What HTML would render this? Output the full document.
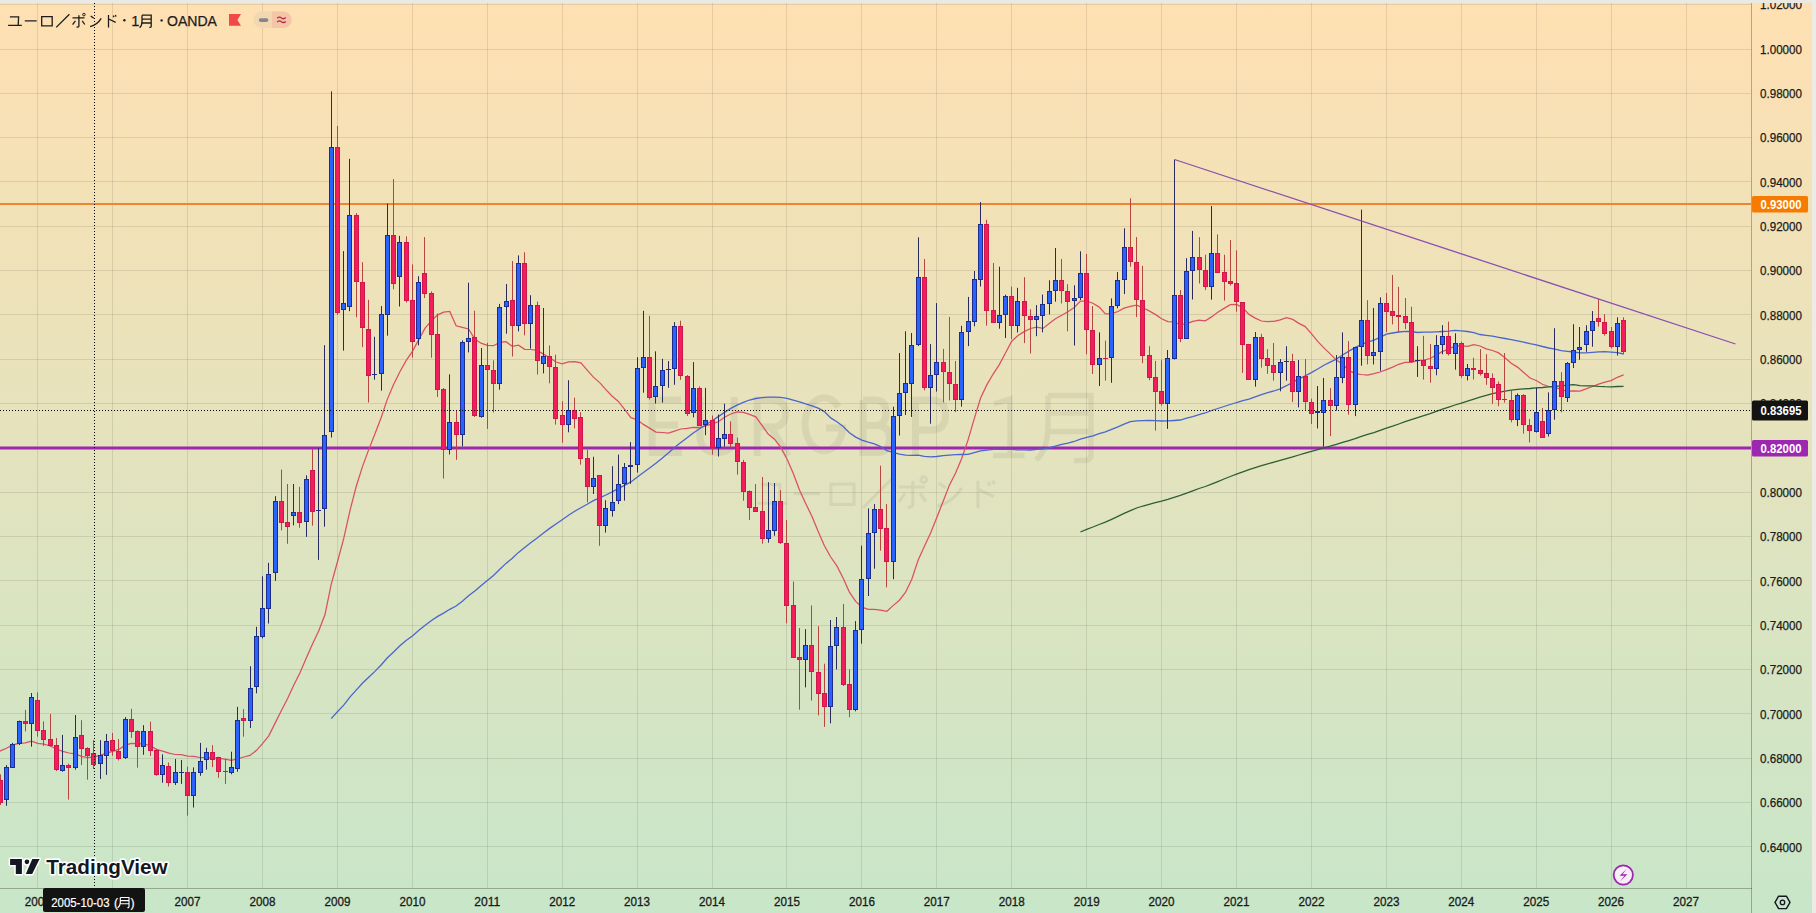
<!DOCTYPE html>
<html><head><meta charset="utf-8"><style>
html,body{margin:0;padding:0;width:1816px;height:913px;overflow:hidden;background:#fff}
svg{display:block}
text{font-family:"Liberation Sans",sans-serif}
</style></head><body>
<svg width="1816" height="913" viewBox="0 0 1816 913">
<defs>
<linearGradient id="bg" x1="0" y1="0" x2="0" y2="1">
<stop offset="0" stop-color="#FFE0B2"/><stop offset="1" stop-color="#C8E6C9"/>
</linearGradient>
<clipPath id="chart"><rect x="0" y="0" width="1751" height="888"/></clipPath>
</defs>
<rect x="0" y="0" width="1816" height="913" fill="url(#bg)"/>

<path d="M37.5,0V888M112.5,0V888M187.5,0V888M262.5,0V888M337.5,0V888M412.5,0V888M487.5,0V888M562.5,0V888M637.5,0V888M712.5,0V888M786.5,0V888M861.5,0V888M936.5,0V888M1011.5,0V888M1086.5,0V888M1161.5,0V888M1236.5,0V888M1311.5,0V888M1386.5,0V888M1461.5,0V888M1536.5,0V888M1611.5,0V888M1686.5,0V888M0,4.5H1751M0,49.5H1751M0,93.5H1751M0,137.5H1751M0,181.5H1751M0,226.5H1751M0,270.5H1751M0,314.5H1751M0,359.5H1751M0,403.5H1751M0,447.5H1751M0,492.5H1751M0,536.5H1751M0,580.5H1751M0,625.5H1751M0,669.5H1751M0,713.5H1751M0,758.5H1751M0,802.5H1751M0,846.5H1751" stroke="#000" stroke-opacity="0.095" stroke-width="1" fill="none"/>
<path d="M681,400H652.2V452.5H682M652.2,425H678M699.9,397V435Q699.9,452.5 717,452.5Q734.2,452.5 734.2,435V397M757.2,456V400H772Q785.5,400 785.5,413.5Q785.5,427 772,427H757.2M771,427L788,456M838.5,407A19,26.5 0 1 0 842.5,431V428H826M863,400V452.5H877Q889.5,452.5 889.5,439Q889.5,425.5 877,425.5H863M863,400H875Q886,400 886,412.7Q886,425.5 875,425.5M915.5,456V400H931Q945.5,400 945.5,415Q945.5,430 931,430H915.5" fill="none" stroke="#000" stroke-opacity="0.06" stroke-width="7"/>
<path d="M994,404L1010,399V455.5M993,455.5H1024.5M1048,395.5H1091V455Q1091,460.5 1084,460.5H1074M1048,395.5V425Q1048,450 1036,460M1048,413H1091M1048,431.5H1091" fill="none" stroke="#000" stroke-opacity="0.06" stroke-width="5.5"/>
<g transform="translate(757,478) scale(2.2) translate(-8.1,-13.8)" fill="none" stroke="#000" stroke-opacity="0.06" stroke-width="1.4"><path d="M9.9,16.8H18.6L18.2,25.3M8.1,25.3H21.8M24.8,20.9H36.7M41.7,16.6H52.2V25.8H41.7ZM56.2,27.4L69.4,14.2M72.5,17.9H84.5M78.9,15.2V26.2Q78.9,27.2 76.6,27M75.4,20.8L72.6,24.6M82.2,20.8L84.8,24.5M90.7,16L93.8,18.3M90.1,26.6Q97.5,24.5 101.2,18.3M108.5,15V27.4M108.7,19L115.7,22.3M113.2,15.6L114,17.2M115.3,15L116.1,16.6"/><circle cx="83.9" cy="14.6" r="1.3"/></g>
<g clip-path="url(#chart)">
<rect x="0" y="203" width="1751" height="2" fill="#EE8530"/>
<rect x="0" y="446.5" width="1751" height="3" fill="#9C27B0"/>
<path d="M-43.4,775.9 L-37.2,769.2 L-30.9,766.5 L-24.7,763.1 L-18.4,760.2 L-12.2,756.3 L-5.9,753.0 L0.3,750.9 L6.5,748.3 L12.8,744.9 L19.0,743.3 L25.3,742.9 L31.5,741.1 L37.8,743.3 L44.0,744.2 L50.2,746.0 L56.5,749.0 L62.7,751.3 L69.0,753.0 L75.2,753.8 L81.5,756.3 L87.7,757.5 L93.9,756.9 L100.2,755.3 L106.4,753.2 L112.7,751.4 L118.9,749.4 L125.2,745.2 L131.4,743.5 L137.7,743.6 L143.9,744.1 L150.1,745.5 L156.4,749.4 L162.6,751.1 L168.9,753.2 L175.1,754.5 L181.4,754.6 L187.6,756.1 L193.8,756.3 L200.1,757.5 L206.3,757.7 L212.6,757.9 L218.8,758.3 L225.1,759.1 L231.3,760.4 L237.5,758.9 L243.8,757.0 L250.0,755.4 L256.3,750.6 L262.5,743.7 L268.8,735.8 L275.0,723.4 L281.3,710.8 L287.5,698.8 L293.7,685.3 L300.0,672.8 L306.2,658.2 L312.5,644.0 L318.7,630.9 L325.0,614.6 L331.2,584.4 L337.4,562.0 L343.7,538.6 L349.9,510.8 L356.2,486.5 L362.4,466.9 L368.7,449.6 L374.9,433.9 L381.1,417.8 L387.4,399.1 L393.6,384.6 L399.9,371.7 L406.1,360.6 L412.4,351.4 L418.6,339.9 L424.9,328.4 L431.1,321.2 L437.3,315.1 L443.6,312.1 L449.8,311.4 L456.1,325.8 L462.3,327.3 L468.6,329.0 L474.8,339.1 L481.0,343.2 L487.3,345.3 L493.5,345.7 L499.8,342.4 L506.0,341.7 L512.3,346.3 L518.5,345.2 L524.7,349.3 L531.0,349.5 L537.2,350.4 L543.5,354.1 L549.7,357.8 L556.0,362.0 L562.2,363.8 L568.5,361.8 L574.7,361.6 L580.9,362.8 L587.2,370.1 L593.4,377.1 L599.7,382.6 L605.9,389.7 L612.2,396.3 L618.4,401.4 L624.6,409.4 L630.9,417.6 L637.1,419.7 L643.4,424.4 L649.6,428.1 L655.9,432.1 L662.1,432.5 L668.3,433.2 L674.6,431.1 L680.8,429.0 L687.1,428.4 L693.3,427.4 L699.6,427.7 L705.8,425.8 L712.1,423.8 L718.3,421.8 L724.5,417.2 L730.8,414.0 L737.0,412.0 L743.3,412.4 L749.5,414.4 L755.8,416.8 L762.0,425.4 L768.2,434.0 L774.5,439.2 L780.7,447.1 L787.0,458.9 L793.2,473.3 L799.5,490.0 L805.7,503.5 L812.0,516.4 L818.2,531.6 L824.4,545.7 L830.7,557.0 L836.9,565.9 L843.2,578.3 L849.4,592.1 L855.7,601.4 L861.9,607.2 L868.1,609.3 L874.4,609.3 L880.6,610.2 L886.9,611.3 L893.1,605.6 L899.4,600.2 L905.6,592.2 L911.8,579.2 L918.1,560.2 L924.3,546.6 L930.6,533.1 L936.8,517.6 L943.1,501.5 L949.3,485.4 L955.6,473.1 L961.8,458.3 L968.0,440.1 L974.3,418.6 L980.5,398.3 L986.8,384.9 L993.0,374.3 L999.3,364.6 L1005.5,353.0 L1011.7,341.2 L1018.0,335.5 L1024.2,331.6 L1030.5,328.5 L1036.7,327.1 L1043.0,328.4 L1049.2,323.6 L1055.4,318.8 L1061.7,315.2 L1067.9,311.7 L1074.2,307.4 L1080.4,301.0 L1086.7,301.0 L1092.9,303.2 L1099.2,307.1 L1105.4,313.8 L1111.6,313.6 L1117.9,311.5 L1124.1,308.1 L1130.4,306.4 L1136.6,305.1 L1142.9,307.8 L1149.1,310.9 L1155.3,314.4 L1161.6,318.8 L1167.8,321.6 L1174.1,321.8 L1180.3,324.7 L1186.6,323.7 L1192.8,321.4 L1199.0,320.1 L1205.3,320.8 L1211.5,316.9 L1217.8,312.3 L1224.0,308.4 L1230.3,304.7 L1236.5,304.5 L1242.8,307.7 L1249.0,314.4 L1255.2,318.1 L1261.5,321.0 L1267.7,321.6 L1274.0,321.3 L1280.2,319.9 L1286.5,317.7 L1292.7,319.4 L1298.9,323.4 L1305.2,326.6 L1311.4,333.7 L1317.7,341.4 L1323.9,347.9 L1330.2,353.9 L1336.4,360.1 L1342.6,364.3 L1348.9,370.4 L1355.1,373.6 L1361.4,374.5 L1367.6,375.1 L1373.9,373.7 L1380.1,372.0 L1386.4,369.6 L1392.6,367.1 L1398.8,364.3 L1405.1,362.3 L1411.3,362.3 L1417.6,360.7 L1423.8,360.2 L1430.1,358.5 L1436.3,355.1 L1442.5,351.4 L1448.8,349.1 L1455.0,345.9 L1461.3,345.8 L1467.5,346.4 L1473.8,344.7 L1480.0,346.0 L1486.2,348.9 L1492.5,350.5 L1498.7,352.9 L1505.0,357.7 L1511.2,363.2 L1517.5,367.1 L1523.7,372.5 L1530.0,378.0 L1536.2,380.5 L1542.4,384.3 L1548.7,386.5 L1554.9,387.1 L1561.2,389.7 L1567.4,391.1 L1573.7,390.9 L1579.9,391.1 L1586.1,388.9 L1592.4,386.5 L1598.6,384.1 L1604.9,382.1 L1611.1,380.6 L1617.4,377.3 L1623.6,374.9" stroke="#DA5062" stroke-width="1.25" fill="none"/>
<path d="M331.2,718.6 L337.4,711.7 L343.7,705.1 L349.9,697.1 L356.2,690.1 L362.4,683.3 L368.7,677.2 L374.9,671.4 L381.1,665.0 L387.4,657.8 L393.6,652.0 L399.9,645.8 L406.1,640.5 L412.4,636.1 L418.6,630.6 L424.9,625.4 L431.1,620.8 L437.3,616.6 L443.6,613.1 L449.8,609.3 L456.1,606.0 L462.3,601.2 L468.6,595.7 L474.8,591.1 L481.0,585.8 L487.3,580.6 L493.5,575.4 L499.8,569.2 L506.0,563.4 L512.3,558.2 L518.5,552.4 L524.7,547.4 L531.0,542.5 L537.2,537.9 L543.5,533.1 L549.7,528.4 L556.0,524.0 L562.2,519.7 L568.5,515.3 L574.7,511.3 L580.9,507.7 L587.2,504.3 L593.4,500.7 L599.7,497.9 L605.9,495.0 L612.2,491.9 L618.4,488.4 L624.6,485.3 L630.9,481.9 L637.1,477.2 L643.4,472.5 L649.6,468.1 L655.9,463.2 L662.1,458.3 L668.3,453.1 L674.6,447.5 L680.8,442.6 L687.1,437.8 L693.3,433.0 L699.6,428.8 L705.8,424.7 L712.1,420.8 L718.3,416.6 L724.5,412.4 L730.8,408.4 L737.0,405.1 L743.3,402.3 L749.5,400.0 L755.8,398.5 L762.0,397.6 L768.2,397.1 L774.5,397.1 L780.7,397.3 L787.0,398.3 L793.2,400.1 L799.5,401.8 L805.7,403.9 L812.0,405.9 L818.2,408.2 L824.4,411.6 L830.7,417.9 L836.9,421.8 L843.2,426.5 L849.4,432.7 L855.7,437.1 L861.9,440.2 L868.1,442.2 L874.4,443.9 L880.6,446.6 L886.9,450.7 L893.1,452.3 L899.4,454.2 L905.6,455.2 L911.8,455.3 L918.1,455.2 L924.3,456.4 L930.6,456.9 L936.8,456.5 L943.1,455.6 L949.3,455.1 L955.6,454.7 L961.8,454.5 L968.0,454.3 L974.3,452.6 L980.5,450.9 L986.8,450.1 L993.0,449.3 L999.3,449.4 L1005.5,449.4 L1011.7,449.4 L1018.0,449.9 L1024.2,449.8 L1030.5,450.0 L1036.7,449.4 L1043.0,448.8 L1049.2,447.8 L1055.4,446.1 L1061.7,444.4 L1067.9,443.1 L1074.2,441.5 L1080.4,439.2 L1086.7,437.3 L1092.9,435.9 L1099.2,433.7 L1105.4,431.9 L1111.6,429.4 L1117.9,426.9 L1124.1,424.1 L1130.4,421.6 L1136.6,420.8 L1142.9,420.7 L1149.1,420.5 L1155.3,420.6 L1161.6,421.0 L1167.8,420.9 L1174.1,420.5 L1180.3,420.0 L1186.6,418.2 L1192.8,416.6 L1199.0,414.6 L1205.3,413.0 L1211.5,410.5 L1217.8,408.5 L1224.0,406.5 L1230.3,404.5 L1236.5,402.5 L1242.8,400.7 L1249.0,399.1 L1255.2,396.9 L1261.5,394.7 L1267.7,392.6 L1274.0,391.0 L1280.2,388.8 L1286.5,385.7 L1292.7,382.4 L1298.9,378.8 L1305.2,375.8 L1311.4,372.6 L1317.7,369.0 L1323.9,365.2 L1330.2,362.2 L1336.4,359.1 L1342.6,355.0 L1348.9,351.1 L1355.1,347.6 L1361.4,344.4 L1367.6,342.1 L1373.9,340.2 L1380.1,337.4 L1386.4,334.2 L1392.6,333.0 L1398.8,332.0 L1405.1,331.3 L1411.3,331.5 L1417.6,332.5 L1423.8,332.2 L1430.1,332.2 L1436.3,331.9 L1442.5,331.5 L1448.8,331.1 L1455.0,330.4 L1461.3,330.9 L1467.5,331.5 L1473.8,332.7 L1480.0,334.5 L1486.2,335.4 L1492.5,336.2 L1498.7,337.3 L1505.0,338.5 L1511.2,339.7 L1517.5,340.9 L1523.7,342.2 L1530.0,343.6 L1536.2,344.8 L1542.4,346.5 L1548.7,348.0 L1554.9,349.2 L1561.2,350.6 L1567.4,351.3 L1573.7,352.0 L1579.9,352.9 L1586.1,352.9 L1592.4,352.4 L1598.6,351.9 L1604.9,351.6 L1611.1,352.1 L1617.4,352.7 L1623.6,354.0" stroke="#4A66CC" stroke-width="1.3" fill="none"/>
<path d="M1080.4,532.0 L1086.7,529.3 L1092.9,527.0 L1099.2,524.5 L1105.4,522.1 L1111.6,519.3 L1117.9,516.4 L1124.1,513.4 L1130.4,510.6 L1136.6,508.0 L1142.9,506.0 L1149.1,504.3 L1155.3,502.6 L1161.6,501.1 L1167.8,499.3 L1174.1,497.3 L1180.3,495.4 L1186.6,493.2 L1192.8,490.8 L1199.0,488.5 L1205.3,486.5 L1211.5,484.1 L1217.8,481.6 L1224.0,479.0 L1230.3,476.5 L1236.5,474.1 L1242.8,471.8 L1249.0,469.7 L1255.2,467.6 L1261.5,465.6 L1267.7,463.9 L1274.0,462.1 L1280.2,460.4 L1286.5,458.6 L1292.7,456.9 L1298.9,455.0 L1305.2,453.2 L1311.4,451.4 L1317.7,449.6 L1323.9,447.9 L1330.2,446.2 L1336.4,444.3 L1342.6,442.3 L1348.9,440.5 L1355.1,438.6 L1361.4,436.4 L1367.6,434.4 L1373.9,432.6 L1380.1,430.4 L1386.4,428.2 L1392.6,426.2 L1398.8,424.0 L1405.1,421.7 L1411.3,419.7 L1417.6,417.6 L1423.8,415.6 L1430.1,413.6 L1436.3,411.3 L1442.5,409.1 L1448.8,407.1 L1455.0,405.0 L1461.3,403.1 L1467.5,401.1 L1473.8,399.1 L1480.0,397.1 L1486.2,395.4 L1492.5,393.7 L1498.7,392.3 L1505.0,391.1 L1511.2,390.2 L1517.5,389.3 L1523.7,388.9 L1530.0,388.5 L1536.2,387.9 L1542.4,387.5 L1548.7,386.9 L1554.9,386.4 L1561.2,385.9 L1567.4,385.1 L1573.7,384.7 L1579.9,385.7 L1586.1,385.8 L1592.4,385.9 L1598.6,386.4 L1604.9,386.7 L1611.1,386.8 L1617.4,386.5 L1623.6,386.4" stroke="#2C5E36" stroke-width="1.3" fill="none"/>
<path d="M6.5,765.1V805.8M12.5,742.9V768.0M19.5,720.6V745.0M31.5,693.0V746.7M62.5,734.9V771.7M75.5,715.0V769.7M100.5,740.1V778.9M106.5,734.0V774.8M125.5,717.1V759.0M143.5,725.2V754.8M162.5,754.4V782.7M175.5,759.0V785.0M181.5,760.0V783.9M193.5,767.4V807.5M200.5,742.9V775.8M206.5,747.8V769.7M231.5,751.7V774.3M237.5,706.8V771.7M250.5,666.2V728.0M256.5,626.8V693.3M262.5,576.3V638.3M268.5,562.8V623.5M275.5,496.2V580.9M293.5,484.0V525.4M306.5,475.3V536.9M318.5,448.2V559.9M324.5,345.2V526.7M331.5,91.4V437.5M343.5,251.1V350.6M349.5,158.8V311.2M374.5,336.8V379.7M381.5,306.1V390.7M387.5,203.5V335.7M399.5,235.9V306.5M418.5,276.2V345.4M449.5,374.3V454.5M462.5,340.4V446.4M468.5,282.7V352.4M481.5,348.0V417.7M499.5,303.9V389.7M506.5,284.1V333.7M518.5,255.4V331.4M530.5,295.2V348.6M543.5,308.0V373.4M568.5,380.2V432.3M593.5,456.8V494.0M605.5,500.2V532.6M612.5,466.2V516.6M618.5,454.6V504.1M624.5,463.0V500.6M630.5,442.1V483.8M637.5,357.2V472.6M643.5,310.8V392.7M655.5,351.3V403.6M662.5,358.8V402.6M668.5,361.1V387.8M674.5,322.1V384.8M693.5,362.1V417.4M705.5,387.9V435.2M718.5,414.5V456.5M724.5,403.7V446.7M768.5,482.2V542.7M774.5,483.0V535.8M805.5,629.2V687.4M830.5,620.0V723.4M836.5,617.0V669.4M855.5,621.1V711.3M861.5,545.7V643.7M868.5,508.4V596.0M874.5,504.1V568.7M893.5,406.7V579.2M899.5,353.0V435.5M905.5,331.3V415.0M911.5,333.0V416.9M918.5,237.3V346.0M930.5,344.1V423.7M936.5,303.1V391.6M961.5,325.8V406.7M968.5,296.9V346.1M974.5,271.0V326.3M980.5,202.1V286.5M999.5,266.7V328.7M1005.5,294.7V338.0M1017.5,287.8V332.5M1036.5,305.1V336.2M1042.5,294.5V332.4M1049.5,280.3V314.4M1055.5,248.0V301.7M1074.5,285.3V345.5M1080.5,251.3V300.0M1099.5,332.4V386.0M1111.5,298.4V382.8M1117.5,272.1V308.3M1124.5,228.3V294.1M1167.5,350.0V428.9M1174.5,159.6V359.5M1186.5,258.2V339.0M1192.5,230.9V299.5M1211.5,206.0V299.7M1255.5,332.0V386.7M1280.5,359.1V391.3M1286.5,346.2V380.7M1298.5,360.0V407.4M1317.5,386.0V428.4M1323.5,377.9V446.7M1336.5,355.1V410.5M1342.5,332.4V383.2M1355.5,346.9V416.1M1361.5,209.6V365.7M1373.5,307.9V364.4M1380.5,297.4V370.9M1417.5,346.2V376.9M1436.5,335.2V375.3M1442.5,325.2V354.3M1455.5,333.3V369.7M1467.5,364.0V380.4M1517.5,393.4V426.1M1536.5,387.7V432.5M1548.5,392.4V436.5M1554.5,328.2V419.7M1567.5,362.1V402.0M1573.5,324.2V368.0M1579.5,327.0V359.8M1586.5,325.3V351.9M1592.5,311.1V346.7M1617.5,317.3V355.5" stroke="#2B2A5E" stroke-width="1" fill="none"/>
<path d="M0.5,774.3V805.0M25.5,709.9V731.4M37.5,692.3V736.7M43.5,721.4V745.9M50.5,714.0V746.5M56.5,738.0V771.0M68.5,763.6V799.6M81.5,720.2V765.1M87.5,747.2V779.7M93.5,740.0V769.0M112.5,732.9V755.9M118.5,739.0V760.5M131.5,708.8V737.9M137.5,730.3V767.7M150.5,721.7V755.9M156.5,748.7V775.8M168.5,762.5V786.5M187.5,766.6V815.7M212.5,745.2V767.1M218.5,756.7V777.8M225.5,759.0V783.9M243.5,709.1V736.7M281.5,469.6V530.3M287.5,484.0V543.8M299.5,486.8V527.8M312.5,449.0V525.7M337.5,125.9V314.7M356.5,213.1V317.3M362.5,262.2V347.1M368.5,299.8V402.5M393.5,179.0V289.3M406.5,236.4V302.5M412.5,264.4V357.7M424.5,237.1V298.1M431.5,291.4V357.7M437.5,313.5V397.0M443.5,388.0V478.5M456.5,410.7V459.8M474.5,310.7V417.0M487.5,342.8V428.9M493.5,360.3V412.5M512.5,261.0V356.5M524.5,252.3V335.4M537.5,301.6V374.5M549.5,345.4V383.3M555.5,354.7V424.6M562.5,401.2V442.8M574.5,397.7V428.3M580.5,412.1V464.7M587.5,449.8V502.4M599.5,475.0V545.8M649.5,315.8V399.6M680.5,320.7V379.9M687.5,375.0V416.0M699.5,386.4V426.0M712.5,415.5V454.6M730.5,421.4V447.1M737.5,437.6V474.7M743.5,459.9V500.7M749.5,490.5V520.0M755.5,484.1V512.0M762.5,477.0V543.7M780.5,490.1V544.0M786.5,520.0V623.4M793.5,581.6V658.0M799.5,628.0V709.7M811.5,605.5V700.5M818.5,626.2V715.4M824.5,663.7V726.9M843.5,603.9V686.0M849.5,669.4V717.2M880.5,465.7V550.7M886.5,504.1V587.3M924.5,259.0V390.4M943.5,348.9V402.4M949.5,316.9V400.5M955.5,361.0V412.0M986.5,219.8V325.6M993.5,263.0V322.8M1011.5,286.5V339.0M1024.5,277.2V343.1M1030.5,309.2V353.5M1061.5,259.0V303.5M1067.5,284.2V331.3M1086.5,254.0V354.3M1092.5,306.1V374.0M1105.5,340.7V380.6M1130.5,198.3V266.7M1136.5,237.1V317.1M1142.5,265.9V363.2M1149.5,346.2V380.2M1155.5,360.9V430.6M1161.5,360.2V405.7M1180.5,290.1V342.2M1199.5,237.2V283.5M1205.5,254.7V290.1M1217.5,234.4V273.0M1224.5,254.7V300.6M1230.5,240.0V285.5M1236.5,250.3V311.7M1242.5,302.1V372.9M1248.5,343.9V380.0M1261.5,333.8V367.6M1267.5,349.2V373.8M1273.5,343.0V380.7M1292.5,353.8V402.0M1305.5,359.1V410.0M1311.5,398.6V424.0M1330.5,388.1V436.2M1348.5,341.1V414.7M1367.5,300.2V364.4M1386.5,293.0V332.1M1392.5,275.0V324.4M1398.5,286.8V332.1M1405.5,298.0V329.0M1411.5,306.8V362.5M1423.5,335.9V379.6M1430.5,344.0V382.7M1448.5,321.7V355.4M1461.5,341.6V377.8M1473.5,357.8V379.5M1480.5,349.1V375.6M1486.5,354.2V384.8M1492.5,373.4V403.8M1498.5,381.5V406.2M1504.5,353.0V402.6M1511.5,390.1V422.3M1523.5,394.1V433.7M1529.5,419.0V442.5M1542.5,408.0V438.0M1561.5,372.2V412.3M1598.5,299.2V326.7M1604.5,314.2V335.6M1611.5,327.0V348.4M1623.5,317.3V354.1" stroke="#B8463F" stroke-width="1" fill="none"/>
<rect x="4" y="767" width="5" height="33" fill="#1E2C8C"/>
<rect x="5" y="768" width="3" height="31" fill="#2962FF"/>
<rect x="10" y="744" width="5" height="24" fill="#1E2C8C"/>
<rect x="11" y="745" width="3" height="22" fill="#2962FF"/>
<rect x="17" y="721" width="5" height="23" fill="#1E2C8C"/>
<rect x="18" y="722" width="3" height="21" fill="#2962FF"/>
<rect x="29" y="697" width="5" height="27" fill="#1E2C8C"/>
<rect x="30" y="698" width="3" height="25" fill="#2962FF"/>
<rect x="60" y="765" width="5" height="6" fill="#1E2C8C"/>
<rect x="61" y="766" width="3" height="4" fill="#2962FF"/>
<rect x="73" y="737" width="5" height="31" fill="#1E2C8C"/>
<rect x="74" y="738" width="3" height="29" fill="#2962FF"/>
<rect x="98" y="755" width="5" height="9" fill="#1E2C8C"/>
<rect x="99" y="756" width="3" height="7" fill="#2962FF"/>
<rect x="104" y="741" width="5" height="15" fill="#1E2C8C"/>
<rect x="105" y="742" width="3" height="13" fill="#2962FF"/>
<rect x="123" y="719" width="5" height="39" fill="#1E2C8C"/>
<rect x="124" y="720" width="3" height="37" fill="#2962FF"/>
<rect x="141" y="731" width="5" height="16" fill="#1E2C8C"/>
<rect x="142" y="732" width="3" height="14" fill="#2962FF"/>
<rect x="160" y="765" width="5" height="10" fill="#1E2C8C"/>
<rect x="161" y="766" width="3" height="8" fill="#2962FF"/>
<rect x="173" y="772" width="5" height="11" fill="#1E2C8C"/>
<rect x="174" y="773" width="3" height="9" fill="#2962FF"/>
<rect x="179" y="772" width="5" height="1" fill="#1E2C8C"/>
<rect x="191" y="772" width="5" height="24" fill="#1E2C8C"/>
<rect x="192" y="773" width="3" height="22" fill="#2962FF"/>
<rect x="198" y="761" width="5" height="12" fill="#1E2C8C"/>
<rect x="199" y="762" width="3" height="10" fill="#2962FF"/>
<rect x="204" y="752" width="5" height="8" fill="#1E2C8C"/>
<rect x="205" y="753" width="3" height="6" fill="#2962FF"/>
<rect x="229" y="767" width="5" height="6" fill="#1E2C8C"/>
<rect x="230" y="768" width="3" height="4" fill="#2962FF"/>
<rect x="235" y="720" width="5" height="49" fill="#1E2C8C"/>
<rect x="236" y="721" width="3" height="47" fill="#2962FF"/>
<rect x="248" y="688" width="5" height="33" fill="#1E2C8C"/>
<rect x="249" y="689" width="3" height="31" fill="#2962FF"/>
<rect x="254" y="636" width="5" height="51" fill="#1E2C8C"/>
<rect x="255" y="637" width="3" height="49" fill="#2962FF"/>
<rect x="260" y="608" width="5" height="29" fill="#1E2C8C"/>
<rect x="261" y="609" width="3" height="27" fill="#2962FF"/>
<rect x="266" y="574" width="5" height="35" fill="#1E2C8C"/>
<rect x="267" y="575" width="3" height="33" fill="#2962FF"/>
<rect x="273" y="501" width="5" height="72" fill="#1E2C8C"/>
<rect x="274" y="502" width="3" height="70" fill="#2962FF"/>
<rect x="291" y="512" width="5" height="4" fill="#1E2C8C"/>
<rect x="292" y="513" width="3" height="2" fill="#2962FF"/>
<rect x="304" y="479" width="5" height="43" fill="#1E2C8C"/>
<rect x="305" y="480" width="3" height="41" fill="#2962FF"/>
<rect x="316" y="510" width="5" height="1" fill="#1E2C8C"/>
<rect x="322" y="435" width="5" height="74" fill="#1E2C8C"/>
<rect x="323" y="436" width="3" height="72" fill="#2962FF"/>
<rect x="329" y="147" width="5" height="285" fill="#1E2C8C"/>
<rect x="330" y="148" width="3" height="283" fill="#2962FF"/>
<rect x="341" y="303" width="5" height="7" fill="#1E2C8C"/>
<rect x="342" y="304" width="3" height="5" fill="#2962FF"/>
<rect x="347" y="215" width="5" height="92" fill="#1E2C8C"/>
<rect x="348" y="216" width="3" height="90" fill="#2962FF"/>
<rect x="372" y="374" width="5" height="1" fill="#1E2C8C"/>
<rect x="379" y="314" width="5" height="60" fill="#1E2C8C"/>
<rect x="380" y="315" width="3" height="58" fill="#2962FF"/>
<rect x="385" y="235" width="5" height="80" fill="#1E2C8C"/>
<rect x="386" y="236" width="3" height="78" fill="#2962FF"/>
<rect x="397" y="242" width="5" height="35" fill="#1E2C8C"/>
<rect x="398" y="243" width="3" height="33" fill="#2962FF"/>
<rect x="416" y="282" width="5" height="57" fill="#1E2C8C"/>
<rect x="417" y="283" width="3" height="55" fill="#2962FF"/>
<rect x="447" y="422" width="5" height="28" fill="#1E2C8C"/>
<rect x="448" y="423" width="3" height="26" fill="#2962FF"/>
<rect x="460" y="342" width="5" height="93" fill="#1E2C8C"/>
<rect x="461" y="343" width="3" height="91" fill="#2962FF"/>
<rect x="466" y="338" width="5" height="4" fill="#1E2C8C"/>
<rect x="467" y="339" width="3" height="2" fill="#2962FF"/>
<rect x="479" y="365" width="5" height="52" fill="#1E2C8C"/>
<rect x="480" y="366" width="3" height="50" fill="#2962FF"/>
<rect x="497" y="307" width="5" height="77" fill="#1E2C8C"/>
<rect x="498" y="308" width="3" height="75" fill="#2962FF"/>
<rect x="504" y="301" width="5" height="6" fill="#1E2C8C"/>
<rect x="505" y="302" width="3" height="4" fill="#2962FF"/>
<rect x="516" y="263" width="5" height="63" fill="#1E2C8C"/>
<rect x="517" y="264" width="3" height="61" fill="#2962FF"/>
<rect x="528" y="305" width="5" height="19" fill="#1E2C8C"/>
<rect x="529" y="306" width="3" height="17" fill="#2962FF"/>
<rect x="541" y="356" width="5" height="8" fill="#1E2C8C"/>
<rect x="542" y="357" width="3" height="6" fill="#2962FF"/>
<rect x="566" y="410" width="5" height="15" fill="#1E2C8C"/>
<rect x="567" y="411" width="3" height="13" fill="#2962FF"/>
<rect x="591" y="478" width="5" height="9" fill="#1E2C8C"/>
<rect x="592" y="479" width="3" height="7" fill="#2962FF"/>
<rect x="603" y="508" width="5" height="18" fill="#1E2C8C"/>
<rect x="604" y="509" width="3" height="16" fill="#2962FF"/>
<rect x="610" y="502" width="5" height="9" fill="#1E2C8C"/>
<rect x="611" y="503" width="3" height="7" fill="#2962FF"/>
<rect x="616" y="484" width="5" height="17" fill="#1E2C8C"/>
<rect x="617" y="485" width="3" height="15" fill="#2962FF"/>
<rect x="622" y="467" width="5" height="17" fill="#1E2C8C"/>
<rect x="623" y="468" width="3" height="15" fill="#2962FF"/>
<rect x="628" y="465" width="5" height="2" fill="#1E2C8C"/>
<rect x="635" y="368" width="5" height="97" fill="#1E2C8C"/>
<rect x="636" y="369" width="3" height="95" fill="#2962FF"/>
<rect x="641" y="357" width="5" height="11" fill="#1E2C8C"/>
<rect x="642" y="358" width="3" height="9" fill="#2962FF"/>
<rect x="653" y="386" width="5" height="11" fill="#1E2C8C"/>
<rect x="654" y="387" width="3" height="9" fill="#2962FF"/>
<rect x="660" y="370" width="5" height="16" fill="#1E2C8C"/>
<rect x="661" y="371" width="3" height="14" fill="#2962FF"/>
<rect x="666" y="369" width="5" height="1" fill="#1E2C8C"/>
<rect x="672" y="326" width="5" height="43" fill="#1E2C8C"/>
<rect x="673" y="327" width="3" height="41" fill="#2962FF"/>
<rect x="691" y="388" width="5" height="25" fill="#1E2C8C"/>
<rect x="692" y="389" width="3" height="23" fill="#2962FF"/>
<rect x="703" y="420" width="5" height="5" fill="#1E2C8C"/>
<rect x="704" y="421" width="3" height="3" fill="#2962FF"/>
<rect x="716" y="438" width="5" height="10" fill="#1E2C8C"/>
<rect x="717" y="439" width="3" height="8" fill="#2962FF"/>
<rect x="722" y="434" width="5" height="5" fill="#1E2C8C"/>
<rect x="723" y="435" width="3" height="3" fill="#2962FF"/>
<rect x="766" y="530" width="5" height="9" fill="#1E2C8C"/>
<rect x="767" y="531" width="3" height="7" fill="#2962FF"/>
<rect x="772" y="501" width="5" height="30" fill="#1E2C8C"/>
<rect x="773" y="502" width="3" height="28" fill="#2962FF"/>
<rect x="803" y="645" width="5" height="15" fill="#1E2C8C"/>
<rect x="804" y="646" width="3" height="13" fill="#2962FF"/>
<rect x="828" y="646" width="5" height="61" fill="#1E2C8C"/>
<rect x="829" y="647" width="3" height="59" fill="#2962FF"/>
<rect x="834" y="627" width="5" height="19" fill="#1E2C8C"/>
<rect x="835" y="628" width="3" height="17" fill="#2962FF"/>
<rect x="853" y="630" width="5" height="80" fill="#1E2C8C"/>
<rect x="854" y="631" width="3" height="78" fill="#2962FF"/>
<rect x="859" y="579" width="5" height="51" fill="#1E2C8C"/>
<rect x="860" y="580" width="3" height="49" fill="#2962FF"/>
<rect x="866" y="533" width="5" height="46" fill="#1E2C8C"/>
<rect x="867" y="534" width="3" height="44" fill="#2962FF"/>
<rect x="872" y="509" width="5" height="24" fill="#1E2C8C"/>
<rect x="873" y="510" width="3" height="22" fill="#2962FF"/>
<rect x="891" y="416" width="5" height="146" fill="#1E2C8C"/>
<rect x="892" y="417" width="3" height="144" fill="#2962FF"/>
<rect x="897" y="393" width="5" height="23" fill="#1E2C8C"/>
<rect x="898" y="394" width="3" height="21" fill="#2962FF"/>
<rect x="903" y="383" width="5" height="10" fill="#1E2C8C"/>
<rect x="904" y="384" width="3" height="8" fill="#2962FF"/>
<rect x="909" y="345" width="5" height="39" fill="#1E2C8C"/>
<rect x="910" y="346" width="3" height="37" fill="#2962FF"/>
<rect x="916" y="277" width="5" height="68" fill="#1E2C8C"/>
<rect x="917" y="278" width="3" height="66" fill="#2962FF"/>
<rect x="928" y="375" width="5" height="13" fill="#1E2C8C"/>
<rect x="929" y="376" width="3" height="11" fill="#2962FF"/>
<rect x="934" y="362" width="5" height="13" fill="#1E2C8C"/>
<rect x="935" y="363" width="3" height="11" fill="#2962FF"/>
<rect x="959" y="332" width="5" height="68" fill="#1E2C8C"/>
<rect x="960" y="333" width="3" height="66" fill="#2962FF"/>
<rect x="966" y="321" width="5" height="11" fill="#1E2C8C"/>
<rect x="967" y="322" width="3" height="9" fill="#2962FF"/>
<rect x="972" y="279" width="5" height="43" fill="#1E2C8C"/>
<rect x="973" y="280" width="3" height="41" fill="#2962FF"/>
<rect x="978" y="224" width="5" height="56" fill="#1E2C8C"/>
<rect x="979" y="225" width="3" height="54" fill="#2962FF"/>
<rect x="997" y="315" width="5" height="8" fill="#1E2C8C"/>
<rect x="998" y="316" width="3" height="6" fill="#2962FF"/>
<rect x="1003" y="296" width="5" height="19" fill="#1E2C8C"/>
<rect x="1004" y="297" width="3" height="17" fill="#2962FF"/>
<rect x="1015" y="301" width="5" height="25" fill="#1E2C8C"/>
<rect x="1016" y="302" width="3" height="23" fill="#2962FF"/>
<rect x="1034" y="316" width="5" height="4" fill="#1E2C8C"/>
<rect x="1035" y="317" width="3" height="2" fill="#2962FF"/>
<rect x="1040" y="304" width="5" height="12" fill="#1E2C8C"/>
<rect x="1041" y="305" width="3" height="10" fill="#2962FF"/>
<rect x="1047" y="291" width="5" height="13" fill="#1E2C8C"/>
<rect x="1048" y="292" width="3" height="11" fill="#2962FF"/>
<rect x="1053" y="280" width="5" height="11" fill="#1E2C8C"/>
<rect x="1054" y="281" width="3" height="9" fill="#2962FF"/>
<rect x="1072" y="298" width="5" height="3" fill="#1E2C8C"/>
<rect x="1073" y="299" width="3" height="1" fill="#2962FF"/>
<rect x="1078" y="273" width="5" height="25" fill="#1E2C8C"/>
<rect x="1079" y="274" width="3" height="23" fill="#2962FF"/>
<rect x="1097" y="358" width="5" height="7" fill="#1E2C8C"/>
<rect x="1098" y="359" width="3" height="5" fill="#2962FF"/>
<rect x="1109" y="306" width="5" height="52" fill="#1E2C8C"/>
<rect x="1110" y="307" width="3" height="50" fill="#2962FF"/>
<rect x="1115" y="280" width="5" height="26" fill="#1E2C8C"/>
<rect x="1116" y="281" width="3" height="24" fill="#2962FF"/>
<rect x="1122" y="247" width="5" height="33" fill="#1E2C8C"/>
<rect x="1123" y="248" width="3" height="31" fill="#2962FF"/>
<rect x="1165" y="358" width="5" height="46" fill="#1E2C8C"/>
<rect x="1166" y="359" width="3" height="44" fill="#2962FF"/>
<rect x="1172" y="295" width="5" height="64" fill="#1E2C8C"/>
<rect x="1173" y="296" width="3" height="62" fill="#2962FF"/>
<rect x="1184" y="271" width="5" height="68" fill="#1E2C8C"/>
<rect x="1185" y="272" width="3" height="66" fill="#2962FF"/>
<rect x="1190" y="257" width="5" height="14" fill="#1E2C8C"/>
<rect x="1191" y="258" width="3" height="12" fill="#2962FF"/>
<rect x="1209" y="253" width="5" height="34" fill="#1E2C8C"/>
<rect x="1210" y="254" width="3" height="32" fill="#2962FF"/>
<rect x="1253" y="337" width="5" height="43" fill="#1E2C8C"/>
<rect x="1254" y="338" width="3" height="41" fill="#2962FF"/>
<rect x="1278" y="362" width="5" height="11" fill="#1E2C8C"/>
<rect x="1279" y="363" width="3" height="9" fill="#2962FF"/>
<rect x="1284" y="361" width="5" height="1" fill="#1E2C8C"/>
<rect x="1296" y="376" width="5" height="16" fill="#1E2C8C"/>
<rect x="1297" y="377" width="3" height="14" fill="#2962FF"/>
<rect x="1315" y="411" width="5" height="2" fill="#1E2C8C"/>
<rect x="1321" y="400" width="5" height="13" fill="#1E2C8C"/>
<rect x="1322" y="401" width="3" height="11" fill="#2962FF"/>
<rect x="1334" y="377" width="5" height="29" fill="#1E2C8C"/>
<rect x="1335" y="378" width="3" height="27" fill="#2962FF"/>
<rect x="1340" y="357" width="5" height="21" fill="#1E2C8C"/>
<rect x="1341" y="358" width="3" height="19" fill="#2962FF"/>
<rect x="1353" y="347" width="5" height="58" fill="#1E2C8C"/>
<rect x="1354" y="348" width="3" height="56" fill="#2962FF"/>
<rect x="1359" y="320" width="5" height="27" fill="#1E2C8C"/>
<rect x="1360" y="321" width="3" height="25" fill="#2962FF"/>
<rect x="1371" y="352" width="5" height="4" fill="#1E2C8C"/>
<rect x="1372" y="353" width="3" height="2" fill="#2962FF"/>
<rect x="1378" y="303" width="5" height="49" fill="#1E2C8C"/>
<rect x="1379" y="304" width="3" height="47" fill="#2962FF"/>
<rect x="1415" y="360" width="5" height="1" fill="#1E2C8C"/>
<rect x="1434" y="345" width="5" height="24" fill="#1E2C8C"/>
<rect x="1435" y="346" width="3" height="22" fill="#2962FF"/>
<rect x="1440" y="336" width="5" height="9" fill="#1E2C8C"/>
<rect x="1441" y="337" width="3" height="7" fill="#2962FF"/>
<rect x="1453" y="343" width="5" height="11" fill="#1E2C8C"/>
<rect x="1454" y="344" width="3" height="9" fill="#2962FF"/>
<rect x="1465" y="368" width="5" height="8" fill="#1E2C8C"/>
<rect x="1466" y="369" width="3" height="6" fill="#2962FF"/>
<rect x="1515" y="395" width="5" height="25" fill="#1E2C8C"/>
<rect x="1516" y="396" width="3" height="23" fill="#2962FF"/>
<rect x="1534" y="412" width="5" height="20" fill="#1E2C8C"/>
<rect x="1535" y="413" width="3" height="18" fill="#2962FF"/>
<rect x="1546" y="410" width="5" height="24" fill="#1E2C8C"/>
<rect x="1547" y="411" width="3" height="22" fill="#2962FF"/>
<rect x="1552" y="381" width="5" height="29" fill="#1E2C8C"/>
<rect x="1553" y="382" width="3" height="27" fill="#2962FF"/>
<rect x="1565" y="363" width="5" height="35" fill="#1E2C8C"/>
<rect x="1566" y="364" width="3" height="33" fill="#2962FF"/>
<rect x="1571" y="350" width="5" height="13" fill="#1E2C8C"/>
<rect x="1572" y="351" width="3" height="11" fill="#2962FF"/>
<rect x="1577" y="347" width="5" height="3" fill="#1E2C8C"/>
<rect x="1578" y="348" width="3" height="1" fill="#2962FF"/>
<rect x="1584" y="331" width="5" height="14" fill="#1E2C8C"/>
<rect x="1585" y="332" width="3" height="12" fill="#2962FF"/>
<rect x="1590" y="321" width="5" height="10" fill="#1E2C8C"/>
<rect x="1591" y="322" width="3" height="8" fill="#2962FF"/>
<rect x="1615" y="323" width="5" height="24" fill="#1E2C8C"/>
<rect x="1616" y="324" width="3" height="22" fill="#2962FF"/>
<rect x="-2" y="780" width="5" height="23" fill="#D0164A"/>
<rect x="-1" y="781" width="3" height="21" fill="#F01E5A"/>
<rect x="23" y="721" width="5" height="3" fill="#D0164A"/>
<rect x="24" y="722" width="3" height="1" fill="#F01E5A"/>
<rect x="35" y="700" width="5" height="31" fill="#D0164A"/>
<rect x="36" y="701" width="3" height="29" fill="#F01E5A"/>
<rect x="41" y="730" width="5" height="10" fill="#D0164A"/>
<rect x="42" y="731" width="3" height="8" fill="#F01E5A"/>
<rect x="48" y="739" width="5" height="7" fill="#D0164A"/>
<rect x="49" y="740" width="3" height="5" fill="#F01E5A"/>
<rect x="54" y="745" width="5" height="25" fill="#D0164A"/>
<rect x="55" y="746" width="3" height="23" fill="#F01E5A"/>
<rect x="66" y="765" width="5" height="3" fill="#D0164A"/>
<rect x="67" y="766" width="3" height="1" fill="#F01E5A"/>
<rect x="79" y="735" width="5" height="14" fill="#D0164A"/>
<rect x="80" y="736" width="3" height="12" fill="#F01E5A"/>
<rect x="85" y="748" width="5" height="8" fill="#D0164A"/>
<rect x="86" y="749" width="3" height="6" fill="#F01E5A"/>
<rect x="91" y="753" width="5" height="12" fill="#D0164A"/>
<rect x="92" y="754" width="3" height="10" fill="#F01E5A"/>
<rect x="110" y="740" width="5" height="11" fill="#D0164A"/>
<rect x="111" y="741" width="3" height="9" fill="#F01E5A"/>
<rect x="116" y="751" width="5" height="8" fill="#D0164A"/>
<rect x="117" y="752" width="3" height="6" fill="#F01E5A"/>
<rect x="129" y="719" width="5" height="13" fill="#D0164A"/>
<rect x="130" y="720" width="3" height="11" fill="#F01E5A"/>
<rect x="135" y="731" width="5" height="16" fill="#D0164A"/>
<rect x="136" y="732" width="3" height="14" fill="#F01E5A"/>
<rect x="148" y="731" width="5" height="20" fill="#D0164A"/>
<rect x="149" y="732" width="3" height="18" fill="#F01E5A"/>
<rect x="154" y="750" width="5" height="25" fill="#D0164A"/>
<rect x="155" y="751" width="3" height="23" fill="#F01E5A"/>
<rect x="166" y="766" width="5" height="17" fill="#D0164A"/>
<rect x="167" y="767" width="3" height="15" fill="#F01E5A"/>
<rect x="185" y="772" width="5" height="24" fill="#D0164A"/>
<rect x="186" y="773" width="3" height="22" fill="#F01E5A"/>
<rect x="210" y="752" width="5" height="8" fill="#D0164A"/>
<rect x="211" y="753" width="3" height="6" fill="#F01E5A"/>
<rect x="216" y="757" width="5" height="15" fill="#D0164A"/>
<rect x="217" y="758" width="3" height="13" fill="#F01E5A"/>
<rect x="223" y="771" width="5" height="1" fill="#D0164A"/>
<rect x="241" y="718" width="5" height="3" fill="#D0164A"/>
<rect x="242" y="719" width="3" height="1" fill="#F01E5A"/>
<rect x="279" y="501" width="5" height="22" fill="#D0164A"/>
<rect x="280" y="502" width="3" height="20" fill="#F01E5A"/>
<rect x="285" y="522" width="5" height="5" fill="#D0164A"/>
<rect x="286" y="523" width="3" height="3" fill="#F01E5A"/>
<rect x="297" y="512" width="5" height="11" fill="#D0164A"/>
<rect x="298" y="513" width="3" height="9" fill="#F01E5A"/>
<rect x="310" y="470" width="5" height="42" fill="#D0164A"/>
<rect x="311" y="471" width="3" height="40" fill="#F01E5A"/>
<rect x="335" y="147" width="5" height="166" fill="#D0164A"/>
<rect x="336" y="148" width="3" height="164" fill="#F01E5A"/>
<rect x="354" y="215" width="5" height="67" fill="#D0164A"/>
<rect x="355" y="216" width="3" height="65" fill="#F01E5A"/>
<rect x="360" y="282" width="5" height="46" fill="#D0164A"/>
<rect x="361" y="283" width="3" height="44" fill="#F01E5A"/>
<rect x="366" y="329" width="5" height="47" fill="#D0164A"/>
<rect x="367" y="330" width="3" height="45" fill="#F01E5A"/>
<rect x="391" y="235" width="5" height="49" fill="#D0164A"/>
<rect x="392" y="236" width="3" height="47" fill="#F01E5A"/>
<rect x="404" y="242" width="5" height="59" fill="#D0164A"/>
<rect x="405" y="243" width="3" height="57" fill="#F01E5A"/>
<rect x="410" y="300" width="5" height="42" fill="#D0164A"/>
<rect x="411" y="301" width="3" height="40" fill="#F01E5A"/>
<rect x="422" y="273" width="5" height="21" fill="#D0164A"/>
<rect x="423" y="274" width="3" height="19" fill="#F01E5A"/>
<rect x="429" y="293" width="5" height="42" fill="#D0164A"/>
<rect x="430" y="294" width="3" height="40" fill="#F01E5A"/>
<rect x="435" y="334" width="5" height="56" fill="#D0164A"/>
<rect x="436" y="335" width="3" height="54" fill="#F01E5A"/>
<rect x="441" y="389" width="5" height="61" fill="#D0164A"/>
<rect x="442" y="390" width="3" height="59" fill="#F01E5A"/>
<rect x="454" y="422" width="5" height="13" fill="#D0164A"/>
<rect x="455" y="423" width="3" height="11" fill="#F01E5A"/>
<rect x="472" y="337" width="5" height="79" fill="#D0164A"/>
<rect x="473" y="338" width="3" height="77" fill="#F01E5A"/>
<rect x="485" y="365" width="5" height="5" fill="#D0164A"/>
<rect x="486" y="366" width="3" height="3" fill="#F01E5A"/>
<rect x="491" y="370" width="5" height="14" fill="#D0164A"/>
<rect x="492" y="371" width="3" height="12" fill="#F01E5A"/>
<rect x="510" y="300" width="5" height="26" fill="#D0164A"/>
<rect x="511" y="301" width="3" height="24" fill="#F01E5A"/>
<rect x="522" y="263" width="5" height="61" fill="#D0164A"/>
<rect x="523" y="264" width="3" height="59" fill="#F01E5A"/>
<rect x="535" y="305" width="5" height="56" fill="#D0164A"/>
<rect x="536" y="306" width="3" height="54" fill="#F01E5A"/>
<rect x="547" y="356" width="5" height="11" fill="#D0164A"/>
<rect x="548" y="357" width="3" height="9" fill="#F01E5A"/>
<rect x="553" y="367" width="5" height="52" fill="#D0164A"/>
<rect x="554" y="368" width="3" height="50" fill="#F01E5A"/>
<rect x="560" y="415" width="5" height="10" fill="#D0164A"/>
<rect x="561" y="416" width="3" height="8" fill="#F01E5A"/>
<rect x="572" y="410" width="5" height="9" fill="#D0164A"/>
<rect x="573" y="411" width="3" height="7" fill="#F01E5A"/>
<rect x="578" y="417" width="5" height="42" fill="#D0164A"/>
<rect x="579" y="418" width="3" height="40" fill="#F01E5A"/>
<rect x="585" y="458" width="5" height="29" fill="#D0164A"/>
<rect x="586" y="459" width="3" height="27" fill="#F01E5A"/>
<rect x="597" y="475" width="5" height="51" fill="#D0164A"/>
<rect x="598" y="476" width="3" height="49" fill="#F01E5A"/>
<rect x="647" y="357" width="5" height="41" fill="#D0164A"/>
<rect x="648" y="358" width="3" height="39" fill="#F01E5A"/>
<rect x="678" y="326" width="5" height="50" fill="#D0164A"/>
<rect x="679" y="327" width="3" height="48" fill="#F01E5A"/>
<rect x="685" y="376" width="5" height="38" fill="#D0164A"/>
<rect x="686" y="377" width="3" height="36" fill="#F01E5A"/>
<rect x="697" y="388" width="5" height="38" fill="#D0164A"/>
<rect x="698" y="389" width="3" height="36" fill="#F01E5A"/>
<rect x="710" y="420" width="5" height="28" fill="#D0164A"/>
<rect x="711" y="421" width="3" height="26" fill="#F01E5A"/>
<rect x="728" y="434" width="5" height="10" fill="#D0164A"/>
<rect x="729" y="435" width="3" height="8" fill="#F01E5A"/>
<rect x="735" y="443" width="5" height="19" fill="#D0164A"/>
<rect x="736" y="444" width="3" height="17" fill="#F01E5A"/>
<rect x="741" y="462" width="5" height="30" fill="#D0164A"/>
<rect x="742" y="463" width="3" height="28" fill="#F01E5A"/>
<rect x="747" y="491" width="5" height="17" fill="#D0164A"/>
<rect x="748" y="492" width="3" height="15" fill="#F01E5A"/>
<rect x="753" y="507" width="5" height="5" fill="#D0164A"/>
<rect x="754" y="508" width="3" height="3" fill="#F01E5A"/>
<rect x="760" y="511" width="5" height="28" fill="#D0164A"/>
<rect x="761" y="512" width="3" height="26" fill="#F01E5A"/>
<rect x="778" y="501" width="5" height="42" fill="#D0164A"/>
<rect x="779" y="502" width="3" height="40" fill="#F01E5A"/>
<rect x="784" y="543" width="5" height="63" fill="#D0164A"/>
<rect x="785" y="544" width="3" height="61" fill="#F01E5A"/>
<rect x="791" y="605" width="5" height="53" fill="#D0164A"/>
<rect x="792" y="606" width="3" height="51" fill="#F01E5A"/>
<rect x="797" y="657" width="5" height="3" fill="#D0164A"/>
<rect x="798" y="658" width="3" height="1" fill="#F01E5A"/>
<rect x="809" y="645" width="5" height="27" fill="#D0164A"/>
<rect x="810" y="646" width="3" height="25" fill="#F01E5A"/>
<rect x="816" y="672" width="5" height="22" fill="#D0164A"/>
<rect x="817" y="673" width="3" height="20" fill="#F01E5A"/>
<rect x="822" y="693" width="5" height="14" fill="#D0164A"/>
<rect x="823" y="694" width="3" height="12" fill="#F01E5A"/>
<rect x="841" y="627" width="5" height="58" fill="#D0164A"/>
<rect x="842" y="628" width="3" height="56" fill="#F01E5A"/>
<rect x="847" y="684" width="5" height="26" fill="#D0164A"/>
<rect x="848" y="685" width="3" height="24" fill="#F01E5A"/>
<rect x="878" y="509" width="5" height="20" fill="#D0164A"/>
<rect x="879" y="510" width="3" height="18" fill="#F01E5A"/>
<rect x="884" y="528" width="5" height="34" fill="#D0164A"/>
<rect x="885" y="529" width="3" height="32" fill="#F01E5A"/>
<rect x="922" y="277" width="5" height="111" fill="#D0164A"/>
<rect x="923" y="278" width="3" height="109" fill="#F01E5A"/>
<rect x="941" y="362" width="5" height="10" fill="#D0164A"/>
<rect x="942" y="363" width="3" height="8" fill="#F01E5A"/>
<rect x="947" y="372" width="5" height="12" fill="#D0164A"/>
<rect x="948" y="373" width="3" height="10" fill="#F01E5A"/>
<rect x="953" y="384" width="5" height="16" fill="#D0164A"/>
<rect x="954" y="385" width="3" height="14" fill="#F01E5A"/>
<rect x="984" y="224" width="5" height="87" fill="#D0164A"/>
<rect x="985" y="225" width="3" height="85" fill="#F01E5A"/>
<rect x="991" y="310" width="5" height="13" fill="#D0164A"/>
<rect x="992" y="311" width="3" height="11" fill="#F01E5A"/>
<rect x="1009" y="296" width="5" height="30" fill="#D0164A"/>
<rect x="1010" y="297" width="3" height="28" fill="#F01E5A"/>
<rect x="1022" y="301" width="5" height="15" fill="#D0164A"/>
<rect x="1023" y="302" width="3" height="13" fill="#F01E5A"/>
<rect x="1028" y="316" width="5" height="4" fill="#D0164A"/>
<rect x="1029" y="317" width="3" height="2" fill="#F01E5A"/>
<rect x="1059" y="280" width="5" height="11" fill="#D0164A"/>
<rect x="1060" y="281" width="3" height="9" fill="#F01E5A"/>
<rect x="1065" y="291" width="5" height="11" fill="#D0164A"/>
<rect x="1066" y="292" width="3" height="9" fill="#F01E5A"/>
<rect x="1084" y="273" width="5" height="57" fill="#D0164A"/>
<rect x="1085" y="274" width="3" height="55" fill="#F01E5A"/>
<rect x="1090" y="330" width="5" height="35" fill="#D0164A"/>
<rect x="1091" y="331" width="3" height="33" fill="#F01E5A"/>
<rect x="1103" y="358" width="5" height="1" fill="#D0164A"/>
<rect x="1128" y="247" width="5" height="15" fill="#D0164A"/>
<rect x="1129" y="248" width="3" height="13" fill="#F01E5A"/>
<rect x="1134" y="262" width="5" height="38" fill="#D0164A"/>
<rect x="1135" y="263" width="3" height="36" fill="#F01E5A"/>
<rect x="1140" y="300" width="5" height="56" fill="#D0164A"/>
<rect x="1141" y="301" width="3" height="54" fill="#F01E5A"/>
<rect x="1147" y="355" width="5" height="23" fill="#D0164A"/>
<rect x="1148" y="356" width="3" height="21" fill="#F01E5A"/>
<rect x="1153" y="377" width="5" height="15" fill="#D0164A"/>
<rect x="1154" y="378" width="3" height="13" fill="#F01E5A"/>
<rect x="1159" y="391" width="5" height="13" fill="#D0164A"/>
<rect x="1160" y="392" width="3" height="11" fill="#F01E5A"/>
<rect x="1178" y="295" width="5" height="44" fill="#D0164A"/>
<rect x="1179" y="296" width="3" height="42" fill="#F01E5A"/>
<rect x="1197" y="257" width="5" height="13" fill="#D0164A"/>
<rect x="1198" y="258" width="3" height="11" fill="#F01E5A"/>
<rect x="1203" y="270" width="5" height="17" fill="#D0164A"/>
<rect x="1204" y="271" width="3" height="15" fill="#F01E5A"/>
<rect x="1215" y="253" width="5" height="20" fill="#D0164A"/>
<rect x="1216" y="254" width="3" height="18" fill="#F01E5A"/>
<rect x="1222" y="272" width="5" height="10" fill="#D0164A"/>
<rect x="1223" y="273" width="3" height="8" fill="#F01E5A"/>
<rect x="1228" y="281" width="5" height="3" fill="#D0164A"/>
<rect x="1229" y="282" width="3" height="1" fill="#F01E5A"/>
<rect x="1234" y="283" width="5" height="19" fill="#D0164A"/>
<rect x="1235" y="284" width="3" height="17" fill="#F01E5A"/>
<rect x="1240" y="302" width="5" height="43" fill="#D0164A"/>
<rect x="1241" y="303" width="3" height="41" fill="#F01E5A"/>
<rect x="1246" y="344" width="5" height="36" fill="#D0164A"/>
<rect x="1247" y="345" width="3" height="34" fill="#F01E5A"/>
<rect x="1259" y="337" width="5" height="22" fill="#D0164A"/>
<rect x="1260" y="338" width="3" height="20" fill="#F01E5A"/>
<rect x="1265" y="358" width="5" height="8" fill="#D0164A"/>
<rect x="1266" y="359" width="3" height="6" fill="#F01E5A"/>
<rect x="1271" y="365" width="5" height="8" fill="#D0164A"/>
<rect x="1272" y="366" width="3" height="6" fill="#F01E5A"/>
<rect x="1290" y="361" width="5" height="31" fill="#D0164A"/>
<rect x="1291" y="362" width="3" height="29" fill="#F01E5A"/>
<rect x="1303" y="376" width="5" height="26" fill="#D0164A"/>
<rect x="1304" y="377" width="3" height="24" fill="#F01E5A"/>
<rect x="1309" y="402" width="5" height="12" fill="#D0164A"/>
<rect x="1310" y="403" width="3" height="10" fill="#F01E5A"/>
<rect x="1328" y="400" width="5" height="6" fill="#D0164A"/>
<rect x="1329" y="401" width="3" height="4" fill="#F01E5A"/>
<rect x="1346" y="357" width="5" height="48" fill="#D0164A"/>
<rect x="1347" y="358" width="3" height="46" fill="#F01E5A"/>
<rect x="1365" y="320" width="5" height="36" fill="#D0164A"/>
<rect x="1366" y="321" width="3" height="34" fill="#F01E5A"/>
<rect x="1384" y="303" width="5" height="9" fill="#D0164A"/>
<rect x="1385" y="304" width="3" height="7" fill="#F01E5A"/>
<rect x="1390" y="311" width="5" height="5" fill="#D0164A"/>
<rect x="1391" y="312" width="3" height="3" fill="#F01E5A"/>
<rect x="1396" y="315" width="5" height="2" fill="#D0164A"/>
<rect x="1403" y="316" width="5" height="7" fill="#D0164A"/>
<rect x="1404" y="317" width="3" height="5" fill="#F01E5A"/>
<rect x="1409" y="322" width="5" height="40" fill="#D0164A"/>
<rect x="1410" y="323" width="3" height="38" fill="#F01E5A"/>
<rect x="1421" y="360" width="5" height="6" fill="#D0164A"/>
<rect x="1422" y="361" width="3" height="4" fill="#F01E5A"/>
<rect x="1428" y="366" width="5" height="3" fill="#D0164A"/>
<rect x="1429" y="367" width="3" height="1" fill="#F01E5A"/>
<rect x="1446" y="336" width="5" height="18" fill="#D0164A"/>
<rect x="1447" y="337" width="3" height="16" fill="#F01E5A"/>
<rect x="1459" y="343" width="5" height="33" fill="#D0164A"/>
<rect x="1460" y="344" width="3" height="31" fill="#F01E5A"/>
<rect x="1471" y="368" width="5" height="2" fill="#D0164A"/>
<rect x="1478" y="370" width="5" height="4" fill="#D0164A"/>
<rect x="1479" y="371" width="3" height="2" fill="#F01E5A"/>
<rect x="1484" y="373" width="5" height="5" fill="#D0164A"/>
<rect x="1485" y="374" width="3" height="3" fill="#F01E5A"/>
<rect x="1490" y="378" width="5" height="10" fill="#D0164A"/>
<rect x="1491" y="379" width="3" height="8" fill="#F01E5A"/>
<rect x="1496" y="384" width="5" height="16" fill="#D0164A"/>
<rect x="1497" y="385" width="3" height="14" fill="#F01E5A"/>
<rect x="1502" y="399" width="5" height="1" fill="#D0164A"/>
<rect x="1509" y="400" width="5" height="20" fill="#D0164A"/>
<rect x="1510" y="401" width="3" height="18" fill="#F01E5A"/>
<rect x="1521" y="395" width="5" height="30" fill="#D0164A"/>
<rect x="1522" y="396" width="3" height="28" fill="#F01E5A"/>
<rect x="1527" y="425" width="5" height="6" fill="#D0164A"/>
<rect x="1528" y="426" width="3" height="4" fill="#F01E5A"/>
<rect x="1540" y="421" width="5" height="17" fill="#D0164A"/>
<rect x="1541" y="422" width="3" height="15" fill="#F01E5A"/>
<rect x="1559" y="381" width="5" height="16" fill="#D0164A"/>
<rect x="1560" y="382" width="3" height="14" fill="#F01E5A"/>
<rect x="1596" y="318" width="5" height="4" fill="#D0164A"/>
<rect x="1597" y="319" width="3" height="2" fill="#F01E5A"/>
<rect x="1602" y="322" width="5" height="12" fill="#D0164A"/>
<rect x="1603" y="323" width="3" height="10" fill="#F01E5A"/>
<rect x="1609" y="331" width="5" height="16" fill="#D0164A"/>
<rect x="1610" y="332" width="3" height="14" fill="#F01E5A"/>
<rect x="1621" y="320" width="5" height="32" fill="#D0164A"/>
<rect x="1622" y="321" width="3" height="30" fill="#F01E5A"/>
<path d="M1174.5,159.5 L1735.5,344" stroke="#8A4DB2" stroke-width="1.3" fill="none"/>
<path d="M94.5,0V888M0,410.5H1751" stroke="#000" stroke-width="1" stroke-dasharray="1,2" fill="none"/>
</g>
<path d="M1751.5,0V913M0,888.5H1752" stroke="#2a2a10" stroke-opacity="0.33" stroke-width="1" fill="none"/>
<text x="1760" y="9.3" font-size="12.5" fill="#1a1a1a" stroke="#1a1a1a" stroke-width="0.25" textLength="42" lengthAdjust="spacingAndGlyphs">1.02000</text>
<text x="1760" y="53.6" font-size="12.5" fill="#1a1a1a" stroke="#1a1a1a" stroke-width="0.25" textLength="42" lengthAdjust="spacingAndGlyphs">1.00000</text>
<text x="1760" y="97.9" font-size="12.5" fill="#1a1a1a" stroke="#1a1a1a" stroke-width="0.25" textLength="42" lengthAdjust="spacingAndGlyphs">0.98000</text>
<text x="1760" y="142.3" font-size="12.5" fill="#1a1a1a" stroke="#1a1a1a" stroke-width="0.25" textLength="42" lengthAdjust="spacingAndGlyphs">0.96000</text>
<text x="1760" y="186.6" font-size="12.5" fill="#1a1a1a" stroke="#1a1a1a" stroke-width="0.25" textLength="42" lengthAdjust="spacingAndGlyphs">0.94000</text>
<text x="1760" y="230.9" font-size="12.5" fill="#1a1a1a" stroke="#1a1a1a" stroke-width="0.25" textLength="42" lengthAdjust="spacingAndGlyphs">0.92000</text>
<text x="1760" y="275.2" font-size="12.5" fill="#1a1a1a" stroke="#1a1a1a" stroke-width="0.25" textLength="42" lengthAdjust="spacingAndGlyphs">0.90000</text>
<text x="1760" y="319.6" font-size="12.5" fill="#1a1a1a" stroke="#1a1a1a" stroke-width="0.25" textLength="42" lengthAdjust="spacingAndGlyphs">0.88000</text>
<text x="1760" y="363.9" font-size="12.5" fill="#1a1a1a" stroke="#1a1a1a" stroke-width="0.25" textLength="42" lengthAdjust="spacingAndGlyphs">0.86000</text>
<text x="1760" y="408.2" font-size="12.5" fill="#1a1a1a" stroke="#1a1a1a" stroke-width="0.25" textLength="42" lengthAdjust="spacingAndGlyphs">0.84000</text>
<text x="1760" y="452.6" font-size="12.5" fill="#1a1a1a" stroke="#1a1a1a" stroke-width="0.25" textLength="42" lengthAdjust="spacingAndGlyphs">0.82000</text>
<text x="1760" y="496.9" font-size="12.5" fill="#1a1a1a" stroke="#1a1a1a" stroke-width="0.25" textLength="42" lengthAdjust="spacingAndGlyphs">0.80000</text>
<text x="1760" y="541.2" font-size="12.5" fill="#1a1a1a" stroke="#1a1a1a" stroke-width="0.25" textLength="42" lengthAdjust="spacingAndGlyphs">0.78000</text>
<text x="1760" y="585.6" font-size="12.5" fill="#1a1a1a" stroke="#1a1a1a" stroke-width="0.25" textLength="42" lengthAdjust="spacingAndGlyphs">0.76000</text>
<text x="1760" y="629.9" font-size="12.5" fill="#1a1a1a" stroke="#1a1a1a" stroke-width="0.25" textLength="42" lengthAdjust="spacingAndGlyphs">0.74000</text>
<text x="1760" y="674.2" font-size="12.5" fill="#1a1a1a" stroke="#1a1a1a" stroke-width="0.25" textLength="42" lengthAdjust="spacingAndGlyphs">0.72000</text>
<text x="1760" y="718.6" font-size="12.5" fill="#1a1a1a" stroke="#1a1a1a" stroke-width="0.25" textLength="42" lengthAdjust="spacingAndGlyphs">0.70000</text>
<text x="1760" y="762.9" font-size="12.5" fill="#1a1a1a" stroke="#1a1a1a" stroke-width="0.25" textLength="42" lengthAdjust="spacingAndGlyphs">0.68000</text>
<text x="1760" y="807.2" font-size="12.5" fill="#1a1a1a" stroke="#1a1a1a" stroke-width="0.25" textLength="42" lengthAdjust="spacingAndGlyphs">0.66000</text>
<text x="1760" y="851.5" font-size="12.5" fill="#1a1a1a" stroke="#1a1a1a" stroke-width="0.25" textLength="42" lengthAdjust="spacingAndGlyphs">0.64000</text>
<text x="37.8" y="906" font-size="12.5" fill="#1a1a1a" stroke="#1a1a1a" stroke-width="0.3" text-anchor="middle" textLength="26" lengthAdjust="spacingAndGlyphs">2005</text>
<text x="112.7" y="906" font-size="12.5" fill="#1a1a1a" stroke="#1a1a1a" stroke-width="0.3" text-anchor="middle" textLength="26" lengthAdjust="spacingAndGlyphs">2006</text>
<text x="187.6" y="906" font-size="12.5" fill="#1a1a1a" stroke="#1a1a1a" stroke-width="0.3" text-anchor="middle" textLength="26" lengthAdjust="spacingAndGlyphs">2007</text>
<text x="262.5" y="906" font-size="12.5" fill="#1a1a1a" stroke="#1a1a1a" stroke-width="0.3" text-anchor="middle" textLength="26" lengthAdjust="spacingAndGlyphs">2008</text>
<text x="337.4" y="906" font-size="12.5" fill="#1a1a1a" stroke="#1a1a1a" stroke-width="0.3" text-anchor="middle" textLength="26" lengthAdjust="spacingAndGlyphs">2009</text>
<text x="412.4" y="906" font-size="12.5" fill="#1a1a1a" stroke="#1a1a1a" stroke-width="0.3" text-anchor="middle" textLength="26" lengthAdjust="spacingAndGlyphs">2010</text>
<text x="487.3" y="906" font-size="12.5" fill="#1a1a1a" stroke="#1a1a1a" stroke-width="0.3" text-anchor="middle" textLength="26" lengthAdjust="spacingAndGlyphs">2011</text>
<text x="562.2" y="906" font-size="12.5" fill="#1a1a1a" stroke="#1a1a1a" stroke-width="0.3" text-anchor="middle" textLength="26" lengthAdjust="spacingAndGlyphs">2012</text>
<text x="637.1" y="906" font-size="12.5" fill="#1a1a1a" stroke="#1a1a1a" stroke-width="0.3" text-anchor="middle" textLength="26" lengthAdjust="spacingAndGlyphs">2013</text>
<text x="712.1" y="906" font-size="12.5" fill="#1a1a1a" stroke="#1a1a1a" stroke-width="0.3" text-anchor="middle" textLength="26" lengthAdjust="spacingAndGlyphs">2014</text>
<text x="787.0" y="906" font-size="12.5" fill="#1a1a1a" stroke="#1a1a1a" stroke-width="0.3" text-anchor="middle" textLength="26" lengthAdjust="spacingAndGlyphs">2015</text>
<text x="861.9" y="906" font-size="12.5" fill="#1a1a1a" stroke="#1a1a1a" stroke-width="0.3" text-anchor="middle" textLength="26" lengthAdjust="spacingAndGlyphs">2016</text>
<text x="936.8" y="906" font-size="12.5" fill="#1a1a1a" stroke="#1a1a1a" stroke-width="0.3" text-anchor="middle" textLength="26" lengthAdjust="spacingAndGlyphs">2017</text>
<text x="1011.7" y="906" font-size="12.5" fill="#1a1a1a" stroke="#1a1a1a" stroke-width="0.3" text-anchor="middle" textLength="26" lengthAdjust="spacingAndGlyphs">2018</text>
<text x="1086.7" y="906" font-size="12.5" fill="#1a1a1a" stroke="#1a1a1a" stroke-width="0.3" text-anchor="middle" textLength="26" lengthAdjust="spacingAndGlyphs">2019</text>
<text x="1161.6" y="906" font-size="12.5" fill="#1a1a1a" stroke="#1a1a1a" stroke-width="0.3" text-anchor="middle" textLength="26" lengthAdjust="spacingAndGlyphs">2020</text>
<text x="1236.5" y="906" font-size="12.5" fill="#1a1a1a" stroke="#1a1a1a" stroke-width="0.3" text-anchor="middle" textLength="26" lengthAdjust="spacingAndGlyphs">2021</text>
<text x="1311.4" y="906" font-size="12.5" fill="#1a1a1a" stroke="#1a1a1a" stroke-width="0.3" text-anchor="middle" textLength="26" lengthAdjust="spacingAndGlyphs">2022</text>
<text x="1386.4" y="906" font-size="12.5" fill="#1a1a1a" stroke="#1a1a1a" stroke-width="0.3" text-anchor="middle" textLength="26" lengthAdjust="spacingAndGlyphs">2023</text>
<text x="1461.3" y="906" font-size="12.5" fill="#1a1a1a" stroke="#1a1a1a" stroke-width="0.3" text-anchor="middle" textLength="26" lengthAdjust="spacingAndGlyphs">2024</text>
<text x="1536.2" y="906" font-size="12.5" fill="#1a1a1a" stroke="#1a1a1a" stroke-width="0.3" text-anchor="middle" textLength="26" lengthAdjust="spacingAndGlyphs">2025</text>
<text x="1611.1" y="906" font-size="12.5" fill="#1a1a1a" stroke="#1a1a1a" stroke-width="0.3" text-anchor="middle" textLength="26" lengthAdjust="spacingAndGlyphs">2026</text>
<text x="1686.0" y="906" font-size="12.5" fill="#1a1a1a" stroke="#1a1a1a" stroke-width="0.3" text-anchor="middle" textLength="26" lengthAdjust="spacingAndGlyphs">2027</text>
<rect x="1752" y="196" width="56" height="16.5" rx="1.5" fill="#F57C00"/>
<text x="1760.5" y="208.8" font-size="12.5" font-weight="bold" fill="#fff" textLength="41" lengthAdjust="spacingAndGlyphs">0.93000</text>
<rect x="1752" y="440" width="56" height="16.5" rx="1.5" fill="#9C27B0"/>
<text x="1760.5" y="452.8" font-size="12.5" font-weight="bold" fill="#fff" textLength="41" lengthAdjust="spacingAndGlyphs">0.82000</text>
<rect x="1752" y="400.5" width="56" height="20" rx="1.5" fill="#131313"/>
<text x="1760.5" y="415.0" font-size="12.5" font-weight="bold" fill="#fff" textLength="41" lengthAdjust="spacingAndGlyphs">0.83695</text>
<rect x="43" y="888" width="102" height="24" rx="2" fill="#131313"/>
<g fill="#fff" stroke="#fff" stroke-width="0.2"><text x="51.3" y="906.8" font-size="12.3" textLength="58.2" lengthAdjust="spacingAndGlyphs">2005-10-03</text><text x="114" y="906.8" font-size="12.3">(</text><text x="130.6" y="906.8" font-size="12.3">)</text></g>
<path d="M120.3,897.5H129V906.6Q129,907.8 127.4,907.6M120.3,897.5V902.5Q120.3,906 117.6,908M120.3,900.6H129M120.3,903.7H129" fill="none" stroke="#fff" stroke-width="1.15"/>
<g fill="none" stroke="#1c1c1c" stroke-width="1.3"><path d="M9.9,16.8H18.6L18.2,25.3M8.1,25.3H21.8M24.8,20.9H36.7M41.7,16.6H52.2V25.8H41.7ZM56.2,27.4L69.4,14.2M72.5,17.9H84.5M78.9,15.2V26.2Q78.9,27.2 76.6,27M75.4,20.8L72.6,24.6M82.2,20.8L84.8,24.5M90.7,16L93.8,18.3M90.1,26.6Q97.5,24.5 101.2,18.3M108.5,15V27.4M108.7,19L115.7,22.3M113.2,15.6L114,17.2M115.3,15L116.1,16.6M142,15.2H151.2V26.4Q151.2,27.6 149.3,27.4M142,15.2V21.5Q142,25.8 139.6,27.8M142,19.1H151.2M142,23H151.2"/><circle cx="83.9" cy="14.6" r="1.3" stroke-width="1"/></g>
<circle cx="124.4" cy="20.2" r="1.2" fill="#1c1c1c"/><circle cx="161.6" cy="20.4" r="1.2" fill="#1c1c1c"/>
<text x="131.3" y="26" font-size="14.5" fill="#1c1c1c" stroke="#1c1c1c" stroke-width="0.25">1</text>
<text x="167" y="25.8" font-size="14.5" fill="#1c1c1c" stroke="#1c1c1c" stroke-width="0.25" textLength="50" lengthAdjust="spacingAndGlyphs">OANDA</text>
<path d="M229,14H241L237.4,20L241,25.7H229Z" fill="#F24848"/>
<rect x="253.5" y="11.5" width="38.5" height="16.5" rx="8.25" fill="#f1d8b2"/>
<path d="M272,11.5H283.25A8.25,8.25 0 0 1 283.25,28H272Z" fill="#f4c5a6"/>
<rect x="258.8" y="18.3" width="9.6" height="3.6" rx="1.8" fill="#86868a"/>
<path d="M277.2,18.2Q279.5,16.2 281.5,18Q283.5,19.6 285.8,17.6M277.2,22Q279.5,20 281.5,21.8Q283.5,23.4 285.8,21.4" stroke="#B8284A" stroke-width="1.3" fill="none"/>
<g stroke="#fff" stroke-width="3" stroke-linejoin="round" fill="#131722" paint-order="stroke">
<path d="M10.1,858.9H21.9V873.9H15.8V865H10.1Z"/>
<circle cx="27" cy="861.8" r="2.4"/>
<path d="M32.3,858.9H39.6L32.2,873.9H25.8Z"/>
<text x="46.2" y="873.9" font-size="20.6" font-weight="bold" textLength="121.5" lengthAdjust="spacingAndGlyphs" stroke-width="3.2">TradingView</text>
</g>
<circle cx="1623.3" cy="875" r="9.6" fill="#f7eef6" stroke="#9C27B0" stroke-width="1.8"/>
<path d="M1626.6,869L1619.6,875.8H1624.4L1620,881.4L1627.4,874.2H1622.6Z" fill="#9C27B0"/>
<path d="M1778.6,896.2H1786.4L1790,902.4L1786.4,908.6H1778.6L1775,902.4Z" fill="none" stroke="#131722" stroke-width="1.4" stroke-linejoin="round"/>
<circle cx="1782.5" cy="902.4" r="2.2" fill="none" stroke="#131722" stroke-width="1.3"/>
<rect x="0" y="0" width="1816" height="3" fill="#EAE9E4"/>
<rect x="1812" y="0" width="4" height="913" fill="#ECEBE6"/>
</svg></body></html>
